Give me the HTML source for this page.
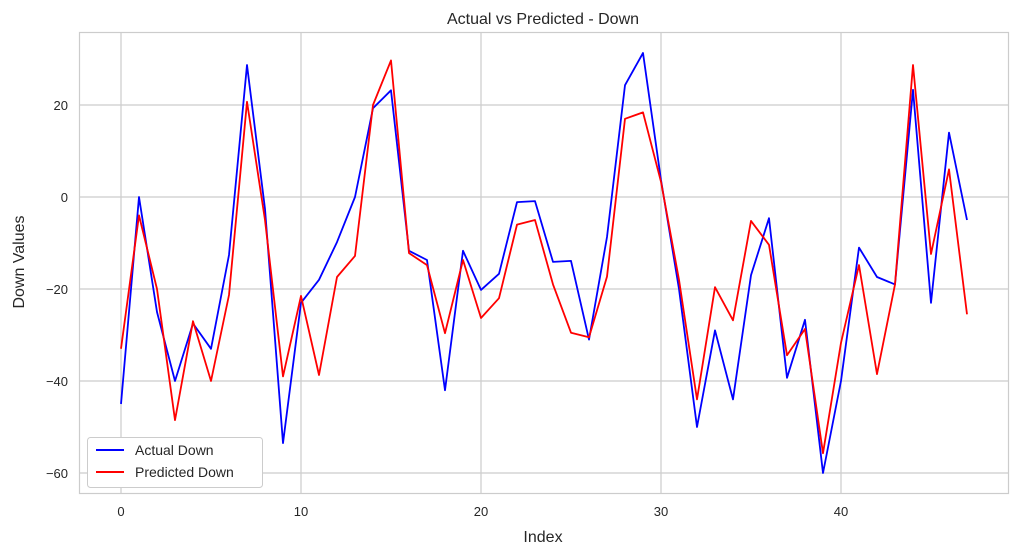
<!DOCTYPE html>
<html><head><meta charset="utf-8"><style>
html,body{margin:0;padding:0;background:#fff;}
svg{display:block;font-family:"Liberation Sans","DejaVu Sans",sans-serif;}
</style></head><body>
<svg id="chart" width="1018" height="556" viewBox="0 0 1018 556">
<rect x="0" y="0" width="1018" height="556" fill="#fff"/>
<g id="grid"></g>
<rect x="79.5" y="32.5" width="929" height="461" fill="none" stroke="#cccccc" stroke-width="1.2"/>
<g id="ticks"></g>
<g id="series"></g>
<text x="543" y="24" text-anchor="middle" font-size="16" fill="#262626">Actual vs Predicted - Down</text>
<text x="543" y="542" text-anchor="middle" font-size="16" fill="#262626">Index</text>
<text transform="translate(24,262) rotate(-90)" text-anchor="middle" font-size="16" fill="#262626">Down Values</text>
<g>
<rect x="87.5" y="437.5" width="175" height="50" rx="3" fill="#fff" stroke="#cccccc"/>
<g>
<line x1="96" y1="450" x2="124" y2="450" stroke="#0000ff" stroke-width="2"/>
<text x="135" y="455" font-size="14" fill="#262626">Actual Down</text></g>
<g>
<line x1="96" y1="472" x2="124" y2="472" stroke="#ff0000" stroke-width="2"/>
<text x="135" y="477" font-size="14" fill="#262626">Predicted Down</text></g>
</g>
</svg>
<script>
const actualDown = [-45,0,-25,-40,-27.5,-33,-12.6,28.7,-2.6,-53.5,-23,-18,-9.8,0,19.3,23.2,-11.7,-13.7,-42,-11.7,-20.2,-16.7,-1.1,-0.9,-14.1,-13.9,-31,-8.7,24.3,31.3,3.7,-20,-50,-29,-44,-17,-4.6,-39.3,-26.7,-60,-40,-11,-17.4,-19,23.3,-23,14,-5];
const predictedDown = [-33,-4,-20,-48.5,-27,-40,-21.3,20.7,-5,-39,-21.5,-38.7,-17.4,-12.8,20,29.7,-12.2,-14.8,-29.6,-13.7,-26.3,-22,-6,-5,-19,-29.5,-30.5,-17.3,17,18.4,3.3,-18,-44,-19.6,-26.8,-5.2,-10.4,-34.4,-28.7,-55.7,-31.7,-14.8,-38.5,-19,28.7,-12.4,6,-25.5];
const xTicks = [0,10,20,30,40];
const yTicks = [-60,-40,-20,0,20];

const NS = "http://www.w3.org/2000/svg";
function xs(i){ return 121 + i*18; }
function ys(v){ return 197 - v*4.6; }
function mk(tag, attrs, parent){
  const e = document.createElementNS(NS, tag);
  for (const k in attrs) e.setAttribute(k, attrs[k]);
  parent.appendChild(e); return e;
}
const grid = document.getElementById('grid');
const ticks = document.getElementById('ticks');
xTicks.forEach(t=>{
  const l = mk('line',{x1:xs(t),x2:xs(t),y1:32,y2:493,stroke:'#cccccc','stroke-width':1.2},grid);
  
  
  const tx = mk('text',{x:xs(t),y:516,'text-anchor':'middle','font-size':13,fill:'#262626'},ticks);
  tx.textContent = t;
  
  
});
yTicks.forEach(t=>{
  const l = mk('line',{x1:79,x2:1008,y1:ys(t),y2:ys(t),stroke:'#cccccc','stroke-width':1.2},grid);
  
  
  const tx = mk('text',{x:68,y:ys(t)+5,'text-anchor':'end','font-size':13,fill:'#262626'},ticks);
  tx.textContent = (t<0?'\u2212'+(-t):t);
  
  
});
const series = document.getElementById('series');
function line(arr, color, name){
  const d = arr.map((v,i)=>(i?'L':'M')+xs(i).toFixed(1)+' '+ys(v).toFixed(1)).join(' ');
  const p = mk('path',{d:d,fill:'none',stroke:color,'stroke-width':1.8,'stroke-linejoin':'round'},series);
  
  
}
line(actualDown,'#0000ff','actual-down-line');
line(predictedDown,'#ff0000','predicted-down-line');
</script>
</body></html>
